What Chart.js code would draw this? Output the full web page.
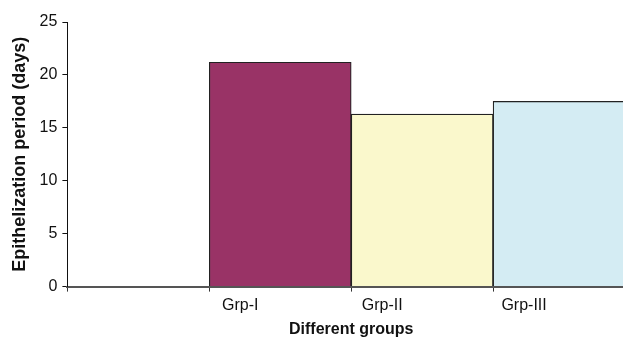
<!DOCTYPE html>
<html>
<head>
<meta charset="utf-8">
<script src="https://cdn.jsdelivr.net/npm/chart.js@4"></script>
<style>
  html, body { margin: 0; padding: 0; background: #fff; overflow: hidden; }
  #wrap { width: 640px; height: 339px; }
</style>
</head>
<body>
<div id="wrap"><canvas id="epiChart"></canvas></div>
<script>
var groupLabels = ["", "Grp-I", "Grp-II", "Grp-III"];
var epiDays = [null, 21.2, 16.3, 17.5];
var barColors = ["#ffffff", "#993366", "#faf8cc", "#d4ecf3"];

var yTicks = [0, 5, 10, 15, 20, 25];

function CreateChart(labels, values) {
    var ctx = document.getElementById('epiChart').getContext('2d');
    return new Chart(ctx, {
        type: 'bar',
        data: {
            labels: labels,
            datasets: [{
                data: values,
                backgroundColor: barColors,
                borderColor: '#222',
                borderWidth: 1.2,
                barPercentage: 1,
                categoryPercentage: 1
            }]
        },
        options: {
            responsive: true,
            maintainAspectRatio: false,
            animation: false,
            layout: {
                padding: { left: 9, right: 5, top: 22, bottom: 0 }
            },
            plugins: {
                legend: { display: false },
                tooltip: { enabled: false }
            },
            scales: {
                x: {
                    grid: {
                        offset: true,
                        drawOnChartArea: false,
                        color: '#333',
                        tickLength: 5
                    },
                    border: { color: '#555', width: 2 },
                    ticks: {
                        color: '#111',
                        labelOffset: -40,
                        padding: 4,
                        font: { family: 'Liberation Sans, Arial', size: 16 }
                    },
                    title: {
                        display: true,
                        text: 'Different groups',
                        color: '#111',
                        padding: { top: 1, bottom: 0 },
                        font: { family: 'Liberation Sans, Arial', size: 16, weight: 'bold' }
                    }
                },
                y: {
                    min: 0,
                    max: 25,
                    afterBuildTicks: function (axis) {
                        axis.ticks = yTicks.map(function (v) { return { value: v }; });
                    },
                    grid: {
                        drawOnChartArea: false,
                        color: '#111',
                        tickLength: 5
                    },
                    border: { color: '#111', width: 1 },
                    ticks: {
                        color: '#111',
                        padding: 5,
                        font: { family: 'Liberation Sans, Arial', size: 16 }
                    },
                    title: {
                        display: true,
                        text: 'Epithelization period (days)',
                        color: '#111',
                        padding: { top: 0, bottom: 4 },
                        font: { family: 'Liberation Sans, Arial', size: 18, weight: 'bold' }
                    }
                }
            }
        }
    });
}

var epiChart = CreateChart(groupLabels, epiDays);
</script>
</body>
</html>
